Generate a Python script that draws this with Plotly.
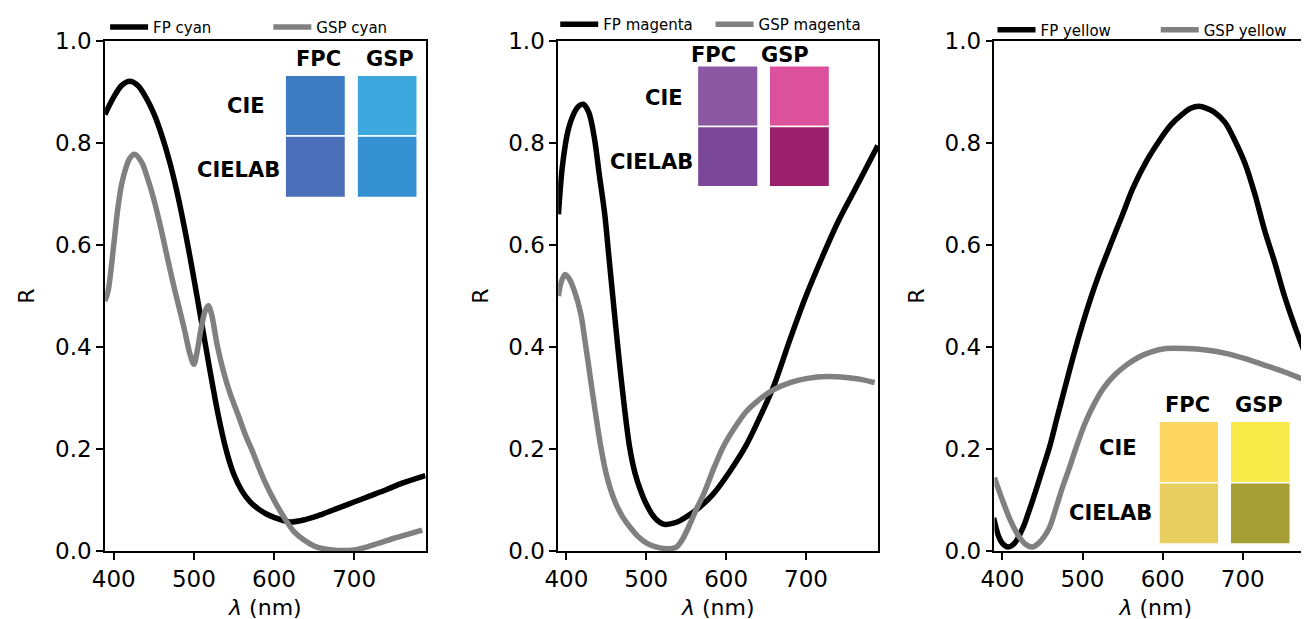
import plotly.graph_objects as go

# ---------------- data ----------------
wl_fp_cyan = [389, 400, 410, 420, 430, 440, 450, 460, 470, 480, 490, 500, 510, 520, 530, 540, 550,
              560, 570, 580, 590, 600, 620, 640, 660, 680, 700, 720, 740, 760, 789]
r_fp_cyan = [0.856, 0.89, 0.913, 0.921, 0.913, 0.89, 0.858, 0.815, 0.762, 0.697, 0.62, 0.535, 0.445,
             0.355, 0.27, 0.2, 0.15, 0.118, 0.097, 0.083, 0.073, 0.066, 0.057, 0.062, 0.072,
             0.084, 0.096, 0.108, 0.12, 0.133, 0.148]

wl_gsp_cyan = [389, 393, 400, 405, 410, 415, 420, 426, 435, 443, 450, 459, 467, 476, 488, 495, 500,
               504, 509, 514, 518, 522, 529, 537, 545, 555, 565, 572, 580, 588, 600, 615, 625, 638,
               650, 660, 680, 700, 712, 730, 750, 770, 785]
r_gsp_cyan = [0.49, 0.51, 0.60, 0.67, 0.72, 0.75, 0.77, 0.778, 0.762, 0.727, 0.69, 0.632, 0.575, 0.513,
              0.436, 0.387, 0.366, 0.39, 0.436, 0.47, 0.481, 0.465, 0.405, 0.352, 0.31, 0.268, 0.225,
              0.2, 0.168, 0.138, 0.1, 0.06, 0.038, 0.021, 0.01, 0.005, 0.001, 0.002, 0.006, 0.015,
              0.025, 0.034, 0.041]

wl_fp_magenta = [390, 395, 402, 410, 415, 421, 428, 435, 441, 448, 453, 458, 466, 472, 479, 486, 493,
                 500, 510, 517, 524, 533, 543, 555, 567, 584, 605, 625, 646, 660, 680, 700, 720, 740,
                 760, 775, 790]
r_fp_magenta = [0.66, 0.755, 0.824, 0.86, 0.872, 0.876, 0.86, 0.81, 0.74, 0.66, 0.58, 0.50, 0.375,
                0.29, 0.205, 0.152, 0.118, 0.092, 0.066, 0.056, 0.052, 0.054, 0.06, 0.072, 0.086,
                0.112, 0.157, 0.207, 0.275, 0.325, 0.415, 0.50, 0.575, 0.645, 0.705, 0.75, 0.795]

wl_gsp_magenta = [390, 393, 398, 403, 410, 418, 423, 429, 435, 443, 450, 460, 470, 480, 490, 501, 512,
                  522, 532, 538, 545, 555, 563, 572, 584, 596, 610, 625, 640, 658, 680, 700, 728, 750,
                  770, 786]
r_gsp_magenta = [0.50, 0.525, 0.542, 0.535, 0.51, 0.465, 0.415, 0.35, 0.285, 0.205, 0.15, 0.10, 0.068,
                 0.046, 0.028, 0.015, 0.008, 0.005, 0.005, 0.008, 0.022, 0.054, 0.083, 0.112, 0.16,
                 0.203, 0.24, 0.273, 0.295, 0.315, 0.33, 0.338, 0.342, 0.34, 0.336, 0.33]

wl_fp_yellow = [389, 395, 400, 407, 415, 426, 434, 442, 450, 459, 468, 478, 489, 500, 510, 520, 534,
                550, 563, 580, 596, 610, 625, 635, 645, 655, 665, 678, 690, 703, 715, 727, 740, 752,
                765, 777, 792]
r_fp_yellow = [0.065, 0.03, 0.015, 0.008, 0.015, 0.047, 0.082, 0.12, 0.16, 0.205, 0.26, 0.32,
               0.385, 0.445, 0.495, 0.54, 0.597, 0.66, 0.712, 0.765, 0.805, 0.835, 0.857, 0.868,
               0.872, 0.868, 0.86, 0.84, 0.805, 0.759, 0.70, 0.63, 0.565, 0.50, 0.44, 0.39, 0.33]

wl_gsp_yellow = [390, 400, 410, 420, 430, 438, 445, 452, 459, 467, 475, 484, 492, 503, 515, 526, 540,
                 555, 570, 585, 604, 630, 654, 680, 703, 730, 752, 770, 792]
r_gsp_yellow = [0.144, 0.10, 0.06, 0.03, 0.012, 0.008, 0.015, 0.028, 0.047, 0.085, 0.125, 0.165,
                0.203, 0.25, 0.29, 0.319, 0.345, 0.365, 0.38, 0.39, 0.397, 0.397, 0.394, 0.387,
                0.377, 0.363, 0.351, 0.34, 0.327]

series_names = ["FP cyan", "GSP cyan", "FP magenta", "GSP magenta", "FP yellow", "GSP yellow"]

swatch_cols = ["FPC", "GSP"]
swatch_rows = ["CIE", "CIELAB"]
# colors[row][col]
swatch_cyan = [["#3d7cc3", "#3ca8de"], ["#4b6fb9", "#3590d1"]]
swatch_magenta = [["#8b58a1", "#dc519b"], ["#7b4799", "#9a206c"]]
swatch_yellow = [["#fdd762", "#f8ea48"], ["#e8ce5e", "#a59f35"]]

x_ticks = [400, 500, 600, 700]
y_ticks = [0.0, 0.2, 0.4, 0.6, 0.8, 1.0]

# ---------------- layout helpers ----------------
W, H = 1309, 619
OFF = 8                      # default page body margin
T = 36 - OFF
B = H - (551 - OFF)
PLOT_H = H - T - B


def px(x):
    return (x - OFF) / W


def py(y):
    return (551 - y) / PLOT_H


FONT = "DejaVu Sans"
BLACK = "#000000"
GRAY = "#808080"

fig = go.Figure()

panels = [
    dict(x=wl_fp_cyan, y=r_fp_cyan, x2=wl_gsp_cyan, y2=r_gsp_cyan),
    dict(x=wl_fp_magenta, y=r_fp_magenta, x2=wl_gsp_magenta, y2=r_gsp_magenta),
    dict(x=wl_fp_yellow, y=r_fp_yellow, x2=wl_gsp_yellow, y2=r_gsp_yellow),
]

for i, p in enumerate(panels):
    ax = "" if i == 0 else str(i + 1)
    lg_a = "legend" if i == 0 else f"legend{2 * i + 1}"
    lg_b = f"legend{2 * i + 2}"
    fig.add_trace(go.Scatter(x=p["x"], y=p["y"], mode="lines", name=series_names[2 * i],
                             line=dict(color=BLACK, width=5.5, shape="spline", smoothing=0.9),
                             xaxis="x" + ax, yaxis="y" + ax, legend=lg_a))
    fig.add_trace(go.Scatter(x=p["x2"], y=p["y2"], mode="lines", name=series_names[2 * i + 1],
                             line=dict(color=GRAY, width=5.5, shape="spline", smoothing=0.9),
                             xaxis="x" + ax, yaxis="y" + ax, legend=lg_b))

# screen-pixel extents of each panel and matching wavelength ranges
domains = [(92, 416), (550, 873.5), (991, 1309 + OFF)]
ranges = [(389.26, 789.3), (389.7, 790.5), (390.1, 792.6)]

axis_common = dict(showgrid=False, zeroline=False, showline=True, linecolor=BLACK, linewidth=1.6,
                   ticks="outside", ticklen=7, tickwidth=1.5, tickcolor=BLACK,
                   tickfont=dict(family=FONT, size=23, color=BLACK))

layout = dict(
    width=W, height=H, margin=dict(l=0, r=0, t=T, b=B),
    paper_bgcolor="white", plot_bgcolor="white", showlegend=True,
    font=dict(family=FONT, color=BLACK),
)

for i in range(3):
    ax = "" if i == 0 else str(i + 1)
    xa = dict(axis_common)
    xa.update(domain=[px(domains[i][0]), min(1.0, px(domains[i][1]))], range=list(ranges[i]),
              tickvals=x_ticks, ticktext=[str(v) for v in x_ticks],
              mirror=True, anchor="y" + ax,
              title=dict(text="<i>λ</i> (nm)", font=dict(family=FONT, size=22), standoff=8))
    ya = dict(axis_common)
    ya.update(domain=[0, 1], range=[0, 1], tickvals=y_ticks,
              ticktext=[f"{v:.1f}" for v in y_ticks],
              mirror=(i < 2), anchor="x" + ax,
              title=dict(text="R", font=dict(family=FONT, size=22), standoff=14))
    layout["xaxis" + ax] = xa
    layout["yaxis" + ax] = ya

# legends: one per entry, placed above each panel (screen px of handle start, centre y)
legend_pos = [(105, 22), (270, 22), (560, 19), (717, 19), (1002, 25), (1167, 25)]
for k, (lx, ly) in enumerate(legend_pos):
    key = "legend" if k == 0 else f"legend{k + 1}"
    layout[key] = dict(x=px(lx - 13), y=py(ly), xanchor="left", yanchor="middle",
                       orientation="h", bgcolor="rgba(0,0,0,0)", borderwidth=0,
                       font=dict(family=FONT, size=15, color=BLACK), itemwidth=38)

fig.update_layout(**layout)

# swatch insets
swatch_sets = [swatch_cyan, swatch_magenta, swatch_yellow]
swatch_geom = [
    dict(cols=[(274, 335), (346.7, 407.5)], rows=[(70.5, 132), (132, 194)],
         col_lbl=[(307.5, 54), (380, 54)], row_lbl=[(234, 101.7), (226.7, 166.7)]),
    dict(cols=[(690.7, 752), (763.3, 824.3)], rows=[(61, 122.3), (122.3, 183.3)],
         col_lbl=[(706.5, 50), (779, 50)], row_lbl=[(656.5, 93.3), (644.7, 158.3)]),
    dict(cols=[(1157.3, 1217.7), (1229.3, 1290)], rows=[(420, 482), (482, 544)],
         col_lbl=[(1186, 403.3), (1258, 403.3)], row_lbl=[(1116, 446.7), (1108, 512.3)]),
]

for colors, g in zip(swatch_sets, swatch_geom):
    for r in range(2):
        for c in range(2):
            (x0, x1), (y0, y1) = g["cols"][c], g["rows"][r]
            fig.add_shape(type="rect", xref="paper", yref="paper",
                          x0=px(x0), x1=px(x1), y0=py(y1), y1=py(y0),
                          fillcolor=colors[r][c], line=dict(color="white", width=1.5),
                          layer="above")
    for c in range(2):
        fig.add_annotation(x=px(g["col_lbl"][c][0]), y=py(g["col_lbl"][c][1]),
                           xref="paper", yref="paper", text=f"<b>{swatch_cols[c]}</b>",
                           showarrow=False, xanchor="center", yanchor="middle",
                           font=dict(family=FONT, size=21, color=BLACK))
    for r in range(2):
        fig.add_annotation(x=px(g["row_lbl"][r][0]), y=py(g["row_lbl"][r][1]),
                           xref="paper", yref="paper", text=f"<b>{swatch_rows[r]}</b>",
                           showarrow=False, xanchor="center", yanchor="middle",
                           font=dict(family=FONT, size=21, color=BLACK))

fig.write_html("out.html", config={"displayModeBar": False})
